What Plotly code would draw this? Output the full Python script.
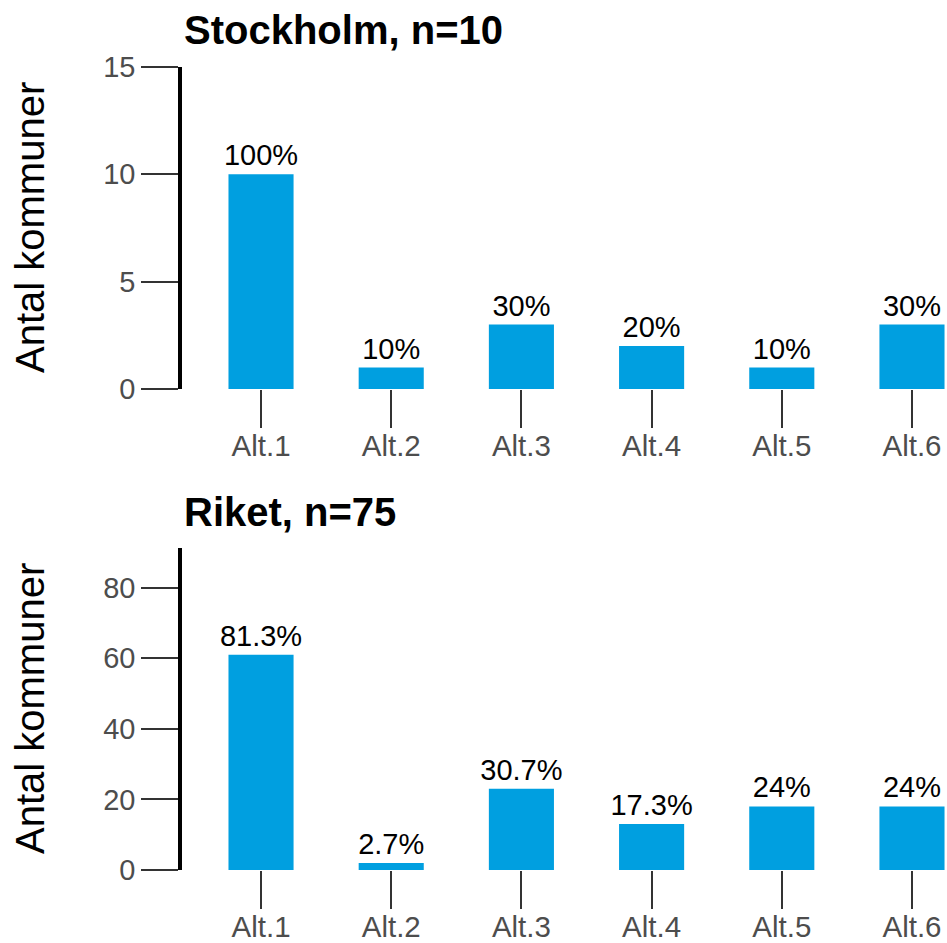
import plotly.graph_objects as go

categories = ["Alt.1", "Alt.2", "Alt.3", "Alt.4", "Alt.5", "Alt.6"]
stockholm_values = [10, 1, 3, 2, 1, 3]
stockholm_n = 10
riket_values = [61, 2, 23, 13, 18, 18]
riket_n = 75
panel_titles = ["Stockholm, n=10", "Riket, n=75"]
y_title = "Antal kommuner"
top_yticks = [0, 5, 10, 15]
bottom_yticks = [0, 20, 40, 60, 80]

W, H = 947, 943
FONT = "Liberation Sans, Arial, sans-serif"
BAR = "#009FE0"


def px(xp):
    return xp / W


def py(yp):
    return 1 - yp / H


def pct_labels(vals, n):
    out = []
    for v in vals:
        p = round(v / n * 100, 1)
        out.append(f"{p:g}%")
    return out


fig = go.Figure()

for vals, n, xa, ya in [(stockholm_values, stockholm_n, "x", "y"),
                        (riket_values, riket_n, "x2", "y2")]:
    fig.add_trace(go.Bar(
        x=categories, y=vals, width=0.5, marker_color=BAR,
        marker_line_width=0,
        text=pct_labels(vals, n), textposition="outside",
        constraintext="none",
        textfont=dict(size=29, color="black", family=FONT),
        cliponaxis=False, xaxis=xa, yaxis=ya, hoverinfo="skip", showlegend=False,
    ))

top_dom = [py(389), py(67)]
bot_dom = [py(870), py(548)]
xrange = [-0.607, 5.269]

xcommon = dict(
    domain=[px(182), 1], range=xrange, showline=False, showgrid=False, zeroline=False,
    ticks="outside", ticklen=38, tickwidth=2, tickcolor="#333333",
    tickfont=dict(size=29.5, color="#4D4D4D", family=FONT), fixedrange=True,
    automargin=False, ticklabelstandoff=-7,
)
ycommon = dict(
    showline=True, linecolor="black", linewidth=3.5, showgrid=False, zeroline=False,
    ticks="outside", ticklen=37, tickwidth=2, tickcolor="#333333",
    tickfont=dict(size=29, color="#4D4D4D", family=FONT), fixedrange=True,
    automargin=False,
)

fig.update_layout(
    width=W, height=H,
    margin=dict(l=0, r=0, t=0, b=0, pad=0, autoexpand=False),
    paper_bgcolor="white", plot_bgcolor="white",
    font=dict(family=FONT),
    bargap=0.5,
    xaxis=dict(**xcommon, anchor="y"),
    yaxis=dict(**ycommon, domain=top_dom, range=[0, 15], tickvals=top_yticks, anchor="x"),
    xaxis2=dict(**xcommon, anchor="y2"),
    yaxis2=dict(**ycommon, domain=bot_dom, range=[0, 91.2], tickvals=bottom_yticks, anchor="x2"),
)

for title, ypix in zip(panel_titles, [30, 512]):
    fig.add_annotation(
        text=f"<b>{title}</b>", xref="paper", yref="paper",
        x=px(182), y=py(ypix), xanchor="left", yanchor="middle",
        showarrow=False, font=dict(size=40, color="black", family=FONT),
    )

for ycen in [228, 709]:
    fig.add_annotation(
        text=y_title, xref="paper", yref="paper",
        x=px(30), y=py(ycen), xanchor="center", yanchor="middle",
        textangle=-90, showarrow=False,
        font=dict(size=40, color="black", family=FONT),
    )

fig.write_html(
    "out.html",
    config={"displayModeBar": False},
    post_script="document.body.style.margin='0';document.body.style.overflow='hidden';",
)
